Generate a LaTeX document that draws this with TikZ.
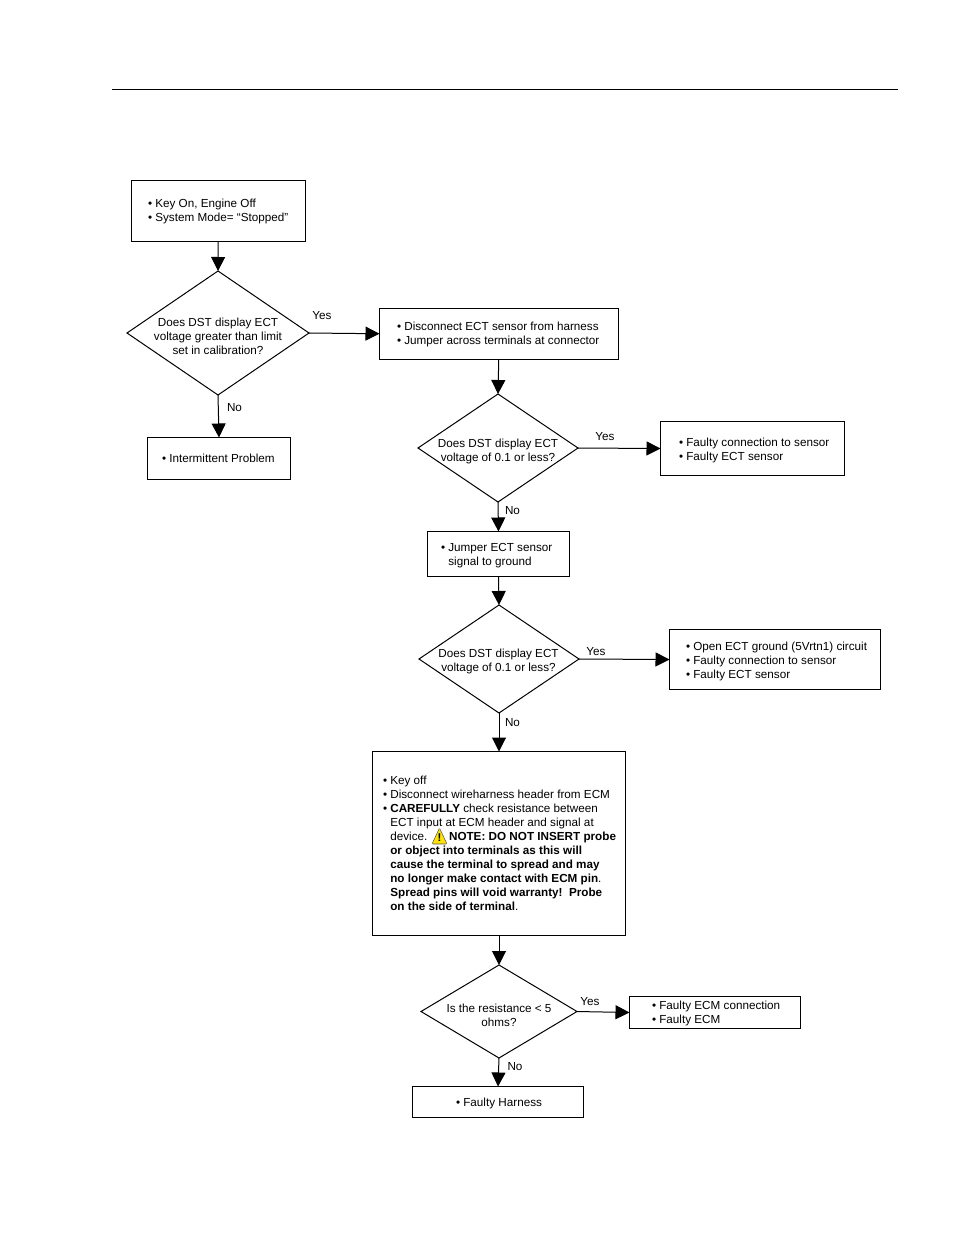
\documentclass[tikz,border=0pt]{standalone}
\usepackage{fontspec}
\setmainfont{Liberation Sans}
\usetikzlibrary{arrows.meta,shapes.geometric}
\newcommand{\bul}{\textbullet\ }
\newcommand{\cont}{\hphantom{\textbullet\ }}
\tikzset{
  x=0.75pt,y=-0.75pt,
  every node/.style={font=\fontsize{8.77}{10.5}\selectfont,inner sep=0pt,outer sep=0pt,text=black},
  boxshape/.style={draw=black,line width=0.75pt,rectangle},
  dia/.style={draw=black,line width=0.75pt,diamond},
  txt/.style={anchor=west,align=left},
  ctxt/.style={anchor=center,align=center},
  lab/.style={anchor=center},
  conn/.style={draw=black,line width=0.75pt,-{Triangle[length=10.5pt,width=10.5pt]}},
}
\newcommand{\mkbox}[5]{% name x0 y0 x1 y1
  \node[boxshape,minimum width={(#4-#2)*0.75pt},minimum height={(#5-#3)*0.75pt}] (#1) at ({(#2+#4)/2},{(#3+#5)/2}) {};}
\newcommand{\mkdia}[5]{% name cx cy w h
  \pgfmathsetmacro{\dasp}{#4/#5}%
  \node[dia,aspect=\dasp,minimum width={#4*0.75pt},minimum height={#5*0.75pt}] (#1) at (#2,#3) {};}
\begin{document}
\begin{tikzpicture}
\useasboundingbox (0,0) rectangle (954,1235);
\coordinate (hl) at (112,89.5); \coordinate (hr) at (898,89.5);
\draw[line width=0.75pt] (hl) -- (hr);

\mkbox{b1}{131.5}{180.5}{305}{241}
\mkdia{d1}{218}{333}{182}{124}
\mkbox{b2}{379.5}{308.5}{618}{359}
\mkbox{bi}{147.5}{437.5}{290.5}{479.5}
\mkdia{d2}{498}{448}{160}{108}
\mkbox{b3}{660.5}{421.5}{844.5}{475.5}
\mkbox{b4}{427.5}{531.5}{569.5}{576.5}
\mkdia{d3}{499}{659}{160}{108}
\mkbox{b5}{669.5}{629.5}{880.5}{689.5}
\mkbox{b6}{372.5}{751.5}{625.5}{935.5}
\mkdia{d4}{499}{1011.5}{156}{93}
\mkbox{b7}{629.5}{996.5}{800.5}{1028.5}
\mkbox{b8}{412.5}{1086.5}{583.5}{1117.5}

\node[txt] (t1) at (148,211) {\bul Key On, Engine Off\\\bul System Mode= “Stopped”};
\node[ctxt] (td1) at (218,336) {Does DST display ECT\\voltage greater than limit\\set in calibration?};
\node[txt] (t2) at (397,334) {\bul Disconnect ECT sensor from harness\\\bul Jumper across terminals at connector};
\node[txt] (ti) at (162,458) {\bul Intermittent Problem};
\node[ctxt] (td2) at (498,451) {Does DST display ECT\\voltage of 0.1 or less?};
\node[txt] (t3) at (679,450) {\bul Faulty connection to sensor\\\bul Faulty ECT sensor};
\node[txt] (t4) at (441,556) {\bul Jumper ECT sensor\\\cont signal to ground};
\node[ctxt] (td3) at (498.5,661) {Does DST display ECT\\voltage of 0.1 or less?};
\node[txt] (t5) at (686,661) {\bul Open ECT ground (5Vrtn1) circuit\\\bul Faulty connection to sensor\\\bul Faulty ECT sensor};
\node[txt] (t6) at (383,843) {\bul Key off\\\bul Disconnect wireharness header from ECM\\\bul \textbf{CAREFULLY} check resistance between\\\cont ECT input at ECM header and signal at\\\cont device. \hspace{13pt}\textbf{NOTE: DO NOT INSERT probe}\\\cont\textbf{or object into terminals as this will}\\\cont\textbf{cause the terminal to spread and may}\\\cont\textbf{no longer make contact with ECM pin}.\\\cont\textbf{Spread pins will void warranty!\ \ Probe}\\\cont\textbf{on the side of terminal}.};
\node[ctxt] (td4) at (499,1015) {Is the resistance < 5\\ohms?};
\node[txt] (t7) at (652,1013.5) {\bul Faulty ECM connection\\\bul Faulty ECM};
\node[txt] (t8) at (456,1103) {\bul Faulty Harness};

\fill[yellow!85!orange,draw=black!65,line width=0.4pt,rounded corners=0.8pt] (432,844) -- (439.5,828) -- (447,844) -- cycle;
\node[font=\bfseries\fontsize{8.5}{10}\selectfont] (wx) at (439.5,837.5) {!};

\node[lab] (l1) at (322,316) {Yes};
\node[lab] (l2) at (234.5,408) {No};
\node[lab] (l3) at (605,437) {Yes};
\node[lab] (l4) at (512.5,511) {No};
\node[lab] (l5) at (596,652) {Yes};
\node[lab] (l6) at (512.5,723) {No};
\node[lab] (l7) at (590,1002) {Yes};
\node[lab] (l8) at (515,1067) {No};

\draw[conn] (b1.south) -- (d1.north);
\draw[conn] (d1.east) -- (b2.west);
\draw[conn] (d1.south) -- (bi.north);
\draw[conn] (b2.south) -- (d2.north);
\draw[conn] (d2.east) -- (b3.west);
\draw[conn] (d2.south) -- (b4.north);
\draw[conn] (b4.south) -- (d3.north);
\draw[conn] (d3.east) -- (b5.west);
\draw[conn] (d3.south) -- (b6.north);
\draw[conn] (b6.south) -- (d4.north);
\draw[conn] (d4.east) -- (b7.west);
\draw[conn] (d4.south) -- (b8.north);
\end{tikzpicture}
\end{document}
